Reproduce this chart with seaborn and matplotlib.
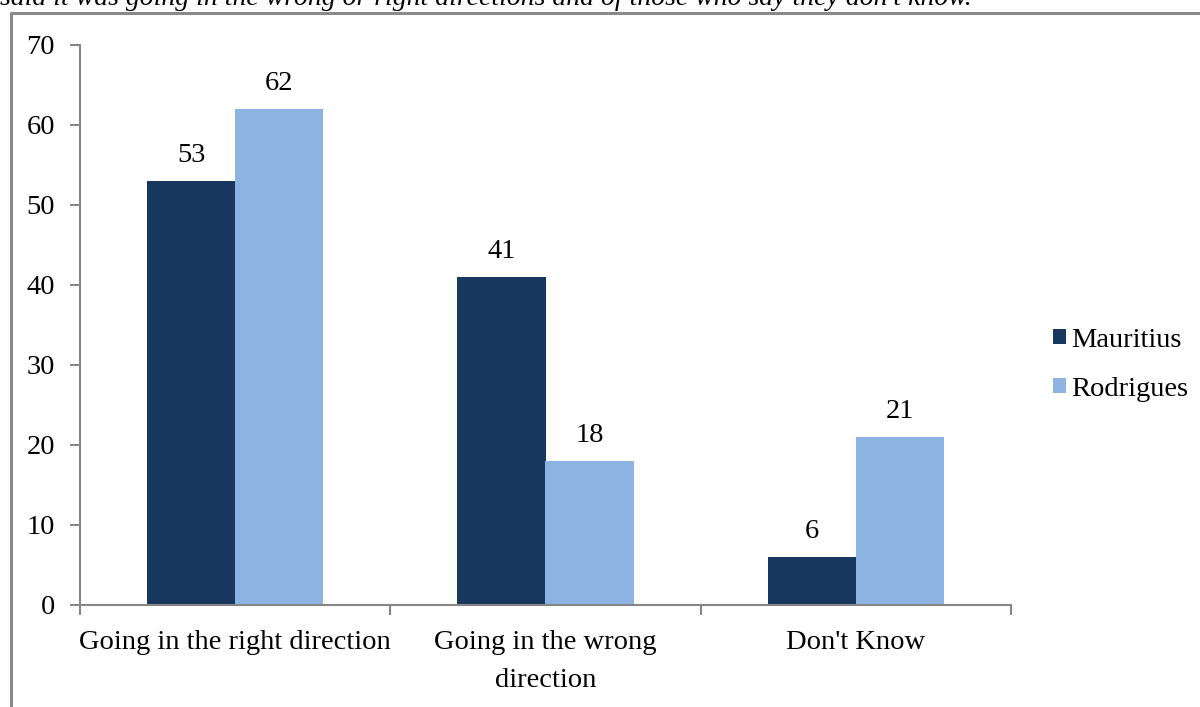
import matplotlib
matplotlib.use("Agg")
import matplotlib.pyplot as plt
from matplotlib.lines import Line2D
import seaborn as sns
import pandas as pd

categories = ["Going in the right direction", "Going in the wrong\ndirection", "Don't Know"]
mauritius = [53, 41, 6]
rodrigues = [62, 18, 21]
series_names = ["Mauritius", "Rodrigues"]
y_ticks = [0, 10, 20, 30, 40, 50, 60, 70]
caption = "said it was going in the wrong or right directions and of those who say they don't know."

colors = ["#17375E", "#8DB3E2"]
axis_gray = "#868686"
fs = 20.5

df = pd.DataFrame({
    "category": categories * 2,
    "country": [series_names[0]] * 3 + [series_names[1]] * 3,
    "value": mauritius + rodrigues,
})

sns.set_theme(style="white")
plt.rcParams["font.family"] = ["Liberation Serif", "DejaVu Serif"]
plt.rcParams["text.color"] = "black"

fig = plt.figure(figsize=(12, 7.07), dpi=100)
ax = fig.add_axes([80 / 1200, 1 - 605 / 707, (1011 - 80) / 1200, (605 - 45) / 707])

sns.barplot(data=df, x="category", y="value", hue="country", order=categories,
            hue_order=series_names, palette=colors, width=0.568, saturation=1,
            ax=ax, legend=True, linewidth=0)

for container in ax.containers:
    ax.bar_label(container, fmt="%g", padding=9, fontsize=fs, color="black")

ax.set_xlim(-0.5, 2.5)
ax.set_ylim(0, 70)
ax.set_yticks(y_ticks)
ax.set_xlabel("")
ax.set_ylabel("")

# category boundaries as major ticks, labels on minor ticks at the centres
ax.set_xticks([-0.5, 0.5, 1.5, 2.5])
ax.set_xticklabels([])
ax.set_xticks([0, 1, 2], minor=True)
ax.set_xticklabels(categories, minor=True, fontsize=fs, color="black", linespacing=1.68)
ax.tick_params(axis="x", which="major", direction="out", length=7, width=1.5, color=axis_gray, bottom=True)
ax.tick_params(axis="x", which="minor", length=0, pad=18)
ax.tick_params(axis="y", direction="out", length=7, width=1.5, color=axis_gray, left=True,
               labelsize=fs, labelcolor="black", pad=11)

for side in ["top", "right"]:
    ax.spines[side].set_visible(False)
for side in ["left", "bottom"]:
    ax.spines[side].set_color(axis_gray)
    ax.spines[side].set_linewidth(1.5)

leg = ax.legend(loc="center left", bbox_to_anchor=(1.045, 0.429), frameon=False,
                fontsize=fs, handlelength=0.45, handleheight=0.45, handletextpad=0.2,
                labelspacing=0.85, borderpad=0, borderaxespad=0)
for txt in leg.get_texts():
    txt.set_color("black")

# frame lines around the figure area and the caption above it
fig.add_artist(Line2D([11 / 1200, 1.0], [1 - 13 / 707, 1 - 13 / 707], color="#8A8A8A", linewidth=2.2))
fig.add_artist(Line2D([11 / 1200, 11 / 1200], [0.0, 1 - 13 / 707], color="#8A8A8A", linewidth=2.2))
fig.text(0 / 1200, 1 - 5 / 707, caption, fontsize=20, style="italic", ha="left", va="baseline", color="black")

fig.savefig("out.png", dpi=100, facecolor="white")
